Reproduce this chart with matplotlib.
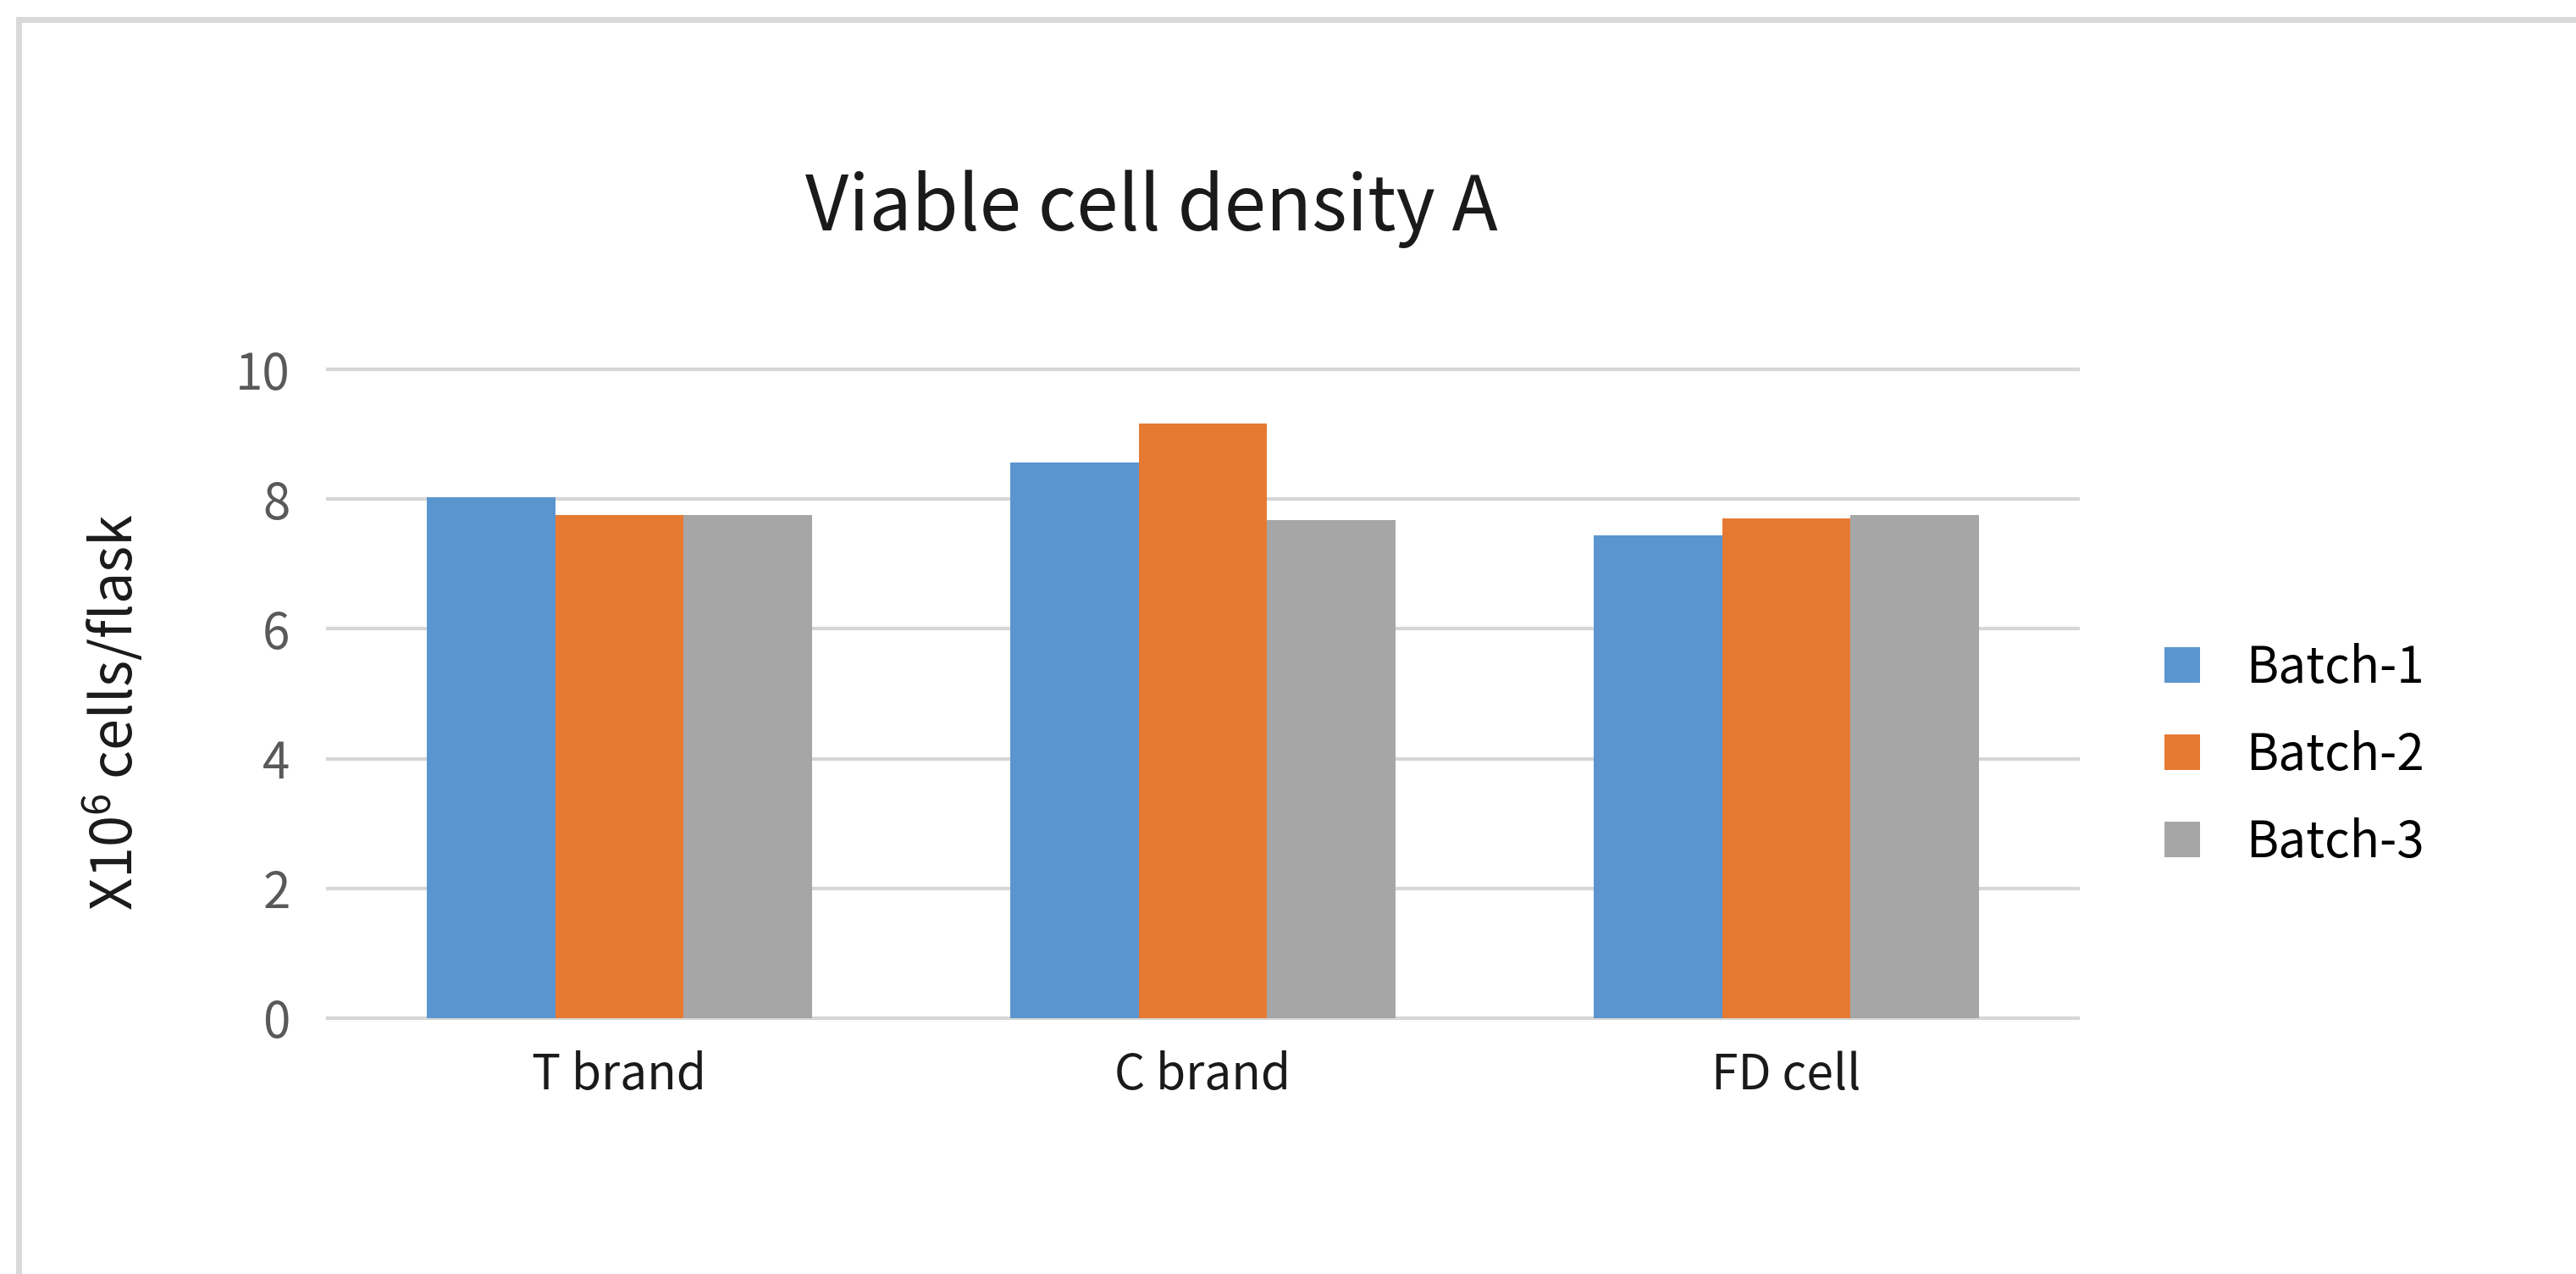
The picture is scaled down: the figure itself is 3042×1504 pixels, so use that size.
import matplotlib
matplotlib.use("Agg")
import matplotlib.pyplot as plt
from matplotlib.lines import Line2D
import numpy as np

plt.rcParams['font.family'] = ['Noto Sans CJK SC', 'DejaVu Sans']
plt.rcParams['mathtext.fontset'] = 'custom'
plt.rcParams['mathtext.rm'] = 'Noto Sans CJK SC'
plt.rcParams['mathtext.default'] = 'rm'

# data
categories = ["T brand", "C brand", "FD cell"]
series_names = ["Batch-1", "Batch-2", "Batch-3"]
batch1 = [8.03, 8.57, 7.44]
batch2 = [7.75, 9.17, 7.70]
batch3 = [7.75, 7.67, 7.76]
y_ticks = [0, 2, 4, 6, 8, 10]

colors = ['#5b95cf', '#e67a32', '#a6a6a6']

fig = plt.figure(figsize=(30.42, 15.04), dpi=100)
ax = fig.add_axes([0.1272, 0.2008, 0.6795, 0.5093])

x = np.arange(len(categories))
w = 0.22
for i, (vals, name) in enumerate(zip([batch1, batch2, batch3], series_names)):
    ax.bar(x + (i - 1) * w, vals, width=w, color=colors[i], label=name, zorder=3)

ax.set_xlim(-0.5, len(categories) - 0.5)
ax.set_ylim(0, 10)
ax.set_yticks(y_ticks)
ax.set_xticks(x)
ax.set_xticklabels(categories)
ax.tick_params(axis='y', length=0, pad=32, labelsize=42, labelcolor='#595959')
ax.tick_params(axis='x', length=0, pad=28, labelsize=41, labelcolor='#1a1a1a')

ax.yaxis.grid(True, color='#d6d6d6', linewidth=3, zorder=0)
for gl in ax.get_ygridlines():
    gl.set_clip_on(False)
ax.set_axisbelow(True)
for s in ax.spines.values():
    s.set_visible(False)

fig.text(0.4471, 0.8191, "Viable cell density A", ha='center', va='baseline',
         fontsize=64, fontweight='medium', color='#1a1a1a')
fig.text(0.0440, 0.4415, "X10$^{6}$ cells/flask", rotation=90, ha='center',
         va='center', fontsize=48, color='#1a1a1a')

fig.legend(loc='center left', bbox_to_anchor=(0.8403, 0.4069), frameon=False,
           fontsize=42, handlelength=0.72, handleheight=0.72, handletextpad=0.93,
           labelspacing=0.72, borderpad=0, borderaxespad=0)

# light frame on top and left edges
fig.add_artist(Line2D([0.00723, 1.0], [0.9847, 0.9847], color='#d9d9d9', linewidth=5,
                      transform=fig.transFigure))
fig.add_artist(Line2D([0.00723, 0.00723], [0.0, 0.9847], color='#d9d9d9', linewidth=5,
                      transform=fig.transFigure))

fig.savefig("out.png", dpi=100, facecolor='white')
